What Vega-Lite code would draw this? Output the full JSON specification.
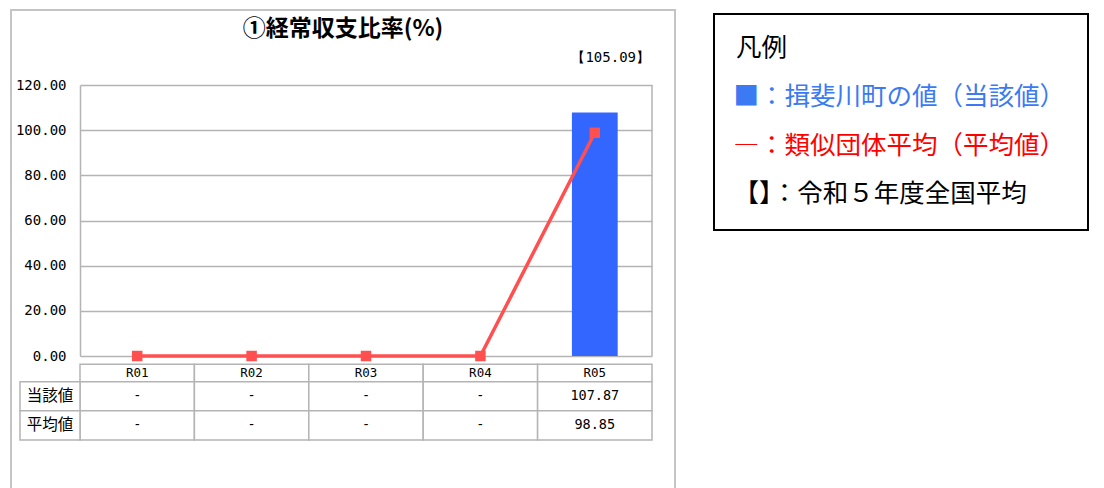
{
  "$schema": "https://vega.github.io/schema/vega-lite/v6.json",
  "width": 664,
  "height": 481,
  "autosize": "none",
  "padding": {"left": 11, "top": 10, "right": 429, "bottom": 0},
  "background": "white",
  "config": {
    "view": {"stroke": "#c4c4c4", "strokeWidth": 2, "fill": "white"},
    "font": "Noto Sans CJK JP"
  },
  "title": {
    "text": "①経常収支比率(%)",
    "anchor": "middle",
    "frame": "group",
    "offset": -21,
    "dy": 21,
    "baseline": "middle",
    "font": "Noto Sans CJK JP",
    "fontSize": 23,
    "fontWeight": "bold",
    "color": "#000000"
  },
  "datasets": {
    "main": [
      {"period": "R01", "current": null, "average": 0},
      {"period": "R02", "current": null, "average": 0},
      {"period": "R03", "current": null, "average": 0},
      {"period": "R04", "current": null, "average": 0},
      {"period": "R05", "current": 107.87, "average": 98.85}
    ],
    "national": [
      {"item": "令和5年度全国平均", "value": 105.09, "label": "【105.09】"}
    ],
    "table": [
      {"row": "当該値", "period": "R01", "text": "-"},
      {"row": "当該値", "period": "R02", "text": "-"},
      {"row": "当該値", "period": "R03", "text": "-"},
      {"row": "当該値", "period": "R04", "text": "-"},
      {"row": "当該値", "period": "R05", "text": "107.87"},
      {"row": "平均値", "period": "R01", "text": "-"},
      {"row": "平均値", "period": "R02", "text": "-"},
      {"row": "平均値", "period": "R03", "text": "-"},
      {"row": "平均値", "period": "R04", "text": "-"},
      {"row": "平均値", "period": "R05", "text": "98.85"}
    ],
    "rows": [
      {"row": "当該値"},
      {"row": "平均値"}
    ]
  },
  "resolve": {"scale": {"x": "independent", "y": "independent"}},
  "layer": [
    {
      "data": {"name": "main"},
      "mark": {"type": "bar", "width": {"band": 0.4}},
      "encoding": {
        "x": {"field": "period", "type": "nominal", "scale": {"type": "band", "domain": ["R01", "R02", "R03", "R04", "R05"], "range": [69, 641], "paddingInner": 0, "paddingOuter": 0}, "axis": null},
        "y": {
          "field": "current", "type": "quantitative",
          "scale": {"domain": [0, 120], "range": [346, 75], "nice": false, "zero": false},
          "axis": {
            "values": [0, 20, 40, 60, 80, 100, 120],
            "format": ".2f",
            "offset": -69,
            "ticks": false,
            "title": null,
            "domainColor": "#b4b4b4",
            "domainWidth": 1.5,
            "grid": true,
            "gridColor": "#b4b4b4",
            "gridWidth": 1.5,
            "labelFont": "DejaVu Sans Mono",
            "labelFontSize": 14,
            "labelColor": "#000000",
            "labelPadding": 14
          }
        },
        "color": {
          "datum": "■：揖斐川町の値（当該値）",
          "type": "nominal",
          "scale": {
            "domain": ["■：揖斐川町の値（当該値）", "―：類似団体平均（平均値）", "【】：令和５年度全国平均"],
            "range": ["#3366ff", "#ff4f4f", "#000000"]
          },
          "legend": {
            "orient": "none",
            "legendX": 703,
            "legendY": 4,
            "title": "凡例",
            "titleFont": "Noto Sans CJK JP",
            "titleFontSize": 25.5,
            "titleFontWeight": "normal",
            "titleColor": "#000000",
            "titlePadding": 23,
            "labelFont": "Noto Sans CJK JP",
            "labelFontSize": 25.5,
            "labelOffset": -28,
            "labelLimit": 600,
            "rowPadding": 21.5,
            "padding": 22,
            "strokeColor": "#000000",
            "fillColor": "#ffffff",
            "symbolType": "square",
            "symbolSize": 1,
            "symbolOpacity": 0,
            "symbolStrokeWidth": 0,
            "encode": {
              "legend": {"update": {"strokeWidth": {"value": 2}}},
              "labels": {"update": {"fill": {"signal": "datum.value === '■：揖斐川町の値（当該値）' ? '#3b7af2' : datum.value === '―：類似団体平均（平均値）' ? '#ff0000' : '#000000'"}}}
            }
          }
        }
      }
    },
    {
      "data": {"name": "main"},
      "mark": {"type": "line", "strokeWidth": 3.5, "point": {"shape": "square", "size": 110, "filled": true, "opacity": 1}},
      "encoding": {
        "x": {"field": "period", "type": "nominal", "scale": {"type": "band", "domain": ["R01", "R02", "R03", "R04", "R05"], "range": [69, 641], "paddingInner": 0, "paddingOuter": 0}, "axis": null},
        "y": {"field": "average", "type": "quantitative", "scale": {"domain": [0, 120], "range": [346, 75], "nice": false, "zero": false}, "axis": null},
        "color": {"datum": "―：類似団体平均（平均値）", "type": "nominal"}
      }
    },
    {
      "data": {"name": "main"},
      "transform": [{"filter": "datum.period === 'R05'"}],
      "mark": {"type": "rule", "color": "#b4b4b4", "strokeWidth": 1.5},
      "encoding": {
        "x": {"field": "period", "type": "nominal", "bandPosition": 1, "scale": {"type": "band", "domain": ["R01", "R02", "R03", "R04", "R05"], "range": [69, 641], "paddingInner": 0, "paddingOuter": 0}, "axis": null},
        "y": {"datum": 0, "type": "quantitative", "scale": {"domain": [0, 120], "range": [346, 75], "nice": false, "zero": false}, "axis": null},
        "y2": {"datum": 120}
      }
    },
    {
      "data": {"name": "national"},
      "mark": {"type": "text", "align": "right", "baseline": "middle", "dy": -27, "dx": -2, "font": "DejaVu Sans Mono", "fontSize": 14},
      "encoding": {
        "x": {"datum": "R05", "type": "nominal", "bandPosition": 1, "scale": {"type": "band", "domain": ["R01", "R02", "R03", "R04", "R05"], "range": [69, 641], "paddingInner": 0, "paddingOuter": 0}, "axis": null},
        "y": {"datum": 120, "type": "quantitative", "scale": {"domain": [0, 120], "range": [346, 75], "nice": false, "zero": false}, "axis": null},
        "text": {"field": "label", "type": "nominal"},
        "color": {"datum": "【】：令和５年度全国平均", "type": "nominal"}
      }
    },
    {
      "data": {"name": "main"},
      "mark": {"type": "rect", "fill": "#ffffff", "stroke": "#b4b4b4", "strokeWidth": 1.5},
      "encoding": {
        "x": {"field": "period", "type": "nominal", "scale": {"type": "band", "domain": ["R01", "R02", "R03", "R04", "R05"], "range": [69, 641], "paddingInner": 0, "paddingOuter": 0}, "axis": null},
        "y": {"datum": "年度", "type": "nominal", "scale": {"type": "band", "domain": ["年度"], "range": [354.3, 371.7], "paddingInner": 0, "paddingOuter": 0}, "axis": null}
      }
    },
    {
      "data": {"name": "main"},
      "mark": {"type": "text", "font": "DejaVu Sans Mono", "fontSize": 12.5, "color": "#000000", "baseline": "middle"},
      "encoding": {
        "x": {"field": "period", "type": "nominal", "scale": {"type": "band", "domain": ["R01", "R02", "R03", "R04", "R05"], "range": [69, 641], "paddingInner": 0, "paddingOuter": 0}, "axis": null},
        "y": {"datum": "年度", "type": "nominal", "scale": {"type": "band", "domain": ["年度"], "range": [354.3, 371.7], "paddingInner": 0, "paddingOuter": 0}, "axis": null},
        "text": {"field": "period", "type": "nominal"}
      }
    },
    {
      "data": {"name": "table"},
      "mark": {"type": "rect", "fill": "#ffffff", "stroke": "#b4b4b4", "strokeWidth": 1.5},
      "encoding": {
        "x": {"field": "period", "type": "nominal", "scale": {"type": "band", "domain": ["R01", "R02", "R03", "R04", "R05"], "range": [69, 641], "paddingInner": 0, "paddingOuter": 0}, "axis": null},
        "y": {"field": "row", "type": "nominal", "scale": {"type": "band", "domain": ["当該値", "平均値"], "range": [371.7, 430], "paddingInner": 0, "paddingOuter": 0}, "axis": null}
      }
    },
    {
      "data": {"name": "table"},
      "mark": {"type": "text", "font": "DejaVu Sans Mono", "fontSize": 13.5, "color": "#000000", "baseline": "middle"},
      "encoding": {
        "x": {"field": "period", "type": "nominal", "scale": {"type": "band", "domain": ["R01", "R02", "R03", "R04", "R05"], "range": [69, 641], "paddingInner": 0, "paddingOuter": 0}, "axis": null},
        "y": {"field": "row", "type": "nominal", "scale": {"type": "band", "domain": ["当該値", "平均値"], "range": [371.7, 430], "paddingInner": 0, "paddingOuter": 0}, "axis": null},
        "text": {"field": "text", "type": "nominal"}
      }
    },
    {
      "data": {"name": "rows"},
      "mark": {"type": "rect", "fill": "#ffffff", "stroke": "#b4b4b4", "strokeWidth": 1.5},
      "encoding": {
        "x": {"datum": "項目", "type": "nominal", "scale": {"type": "band", "domain": ["項目"], "range": [9, 69], "paddingInner": 0, "paddingOuter": 0}, "axis": null},
        "y": {"field": "row", "type": "nominal", "scale": {"type": "band", "domain": ["当該値", "平均値"], "range": [371.7, 430], "paddingInner": 0, "paddingOuter": 0}, "axis": null}
      }
    },
    {
      "data": {"name": "rows"},
      "mark": {"type": "text", "font": "Noto Sans CJK JP", "fontSize": 15.5, "color": "#000000", "baseline": "middle"},
      "encoding": {
        "x": {"datum": "項目", "type": "nominal", "scale": {"type": "band", "domain": ["項目"], "range": [9, 69], "paddingInner": 0, "paddingOuter": 0}, "axis": null},
        "y": {"field": "row", "type": "nominal", "scale": {"type": "band", "domain": ["当該値", "平均値"], "range": [371.7, 430], "paddingInner": 0, "paddingOuter": 0}, "axis": null},
        "text": {"field": "row", "type": "nominal"}
      }
    }
  ]
}
